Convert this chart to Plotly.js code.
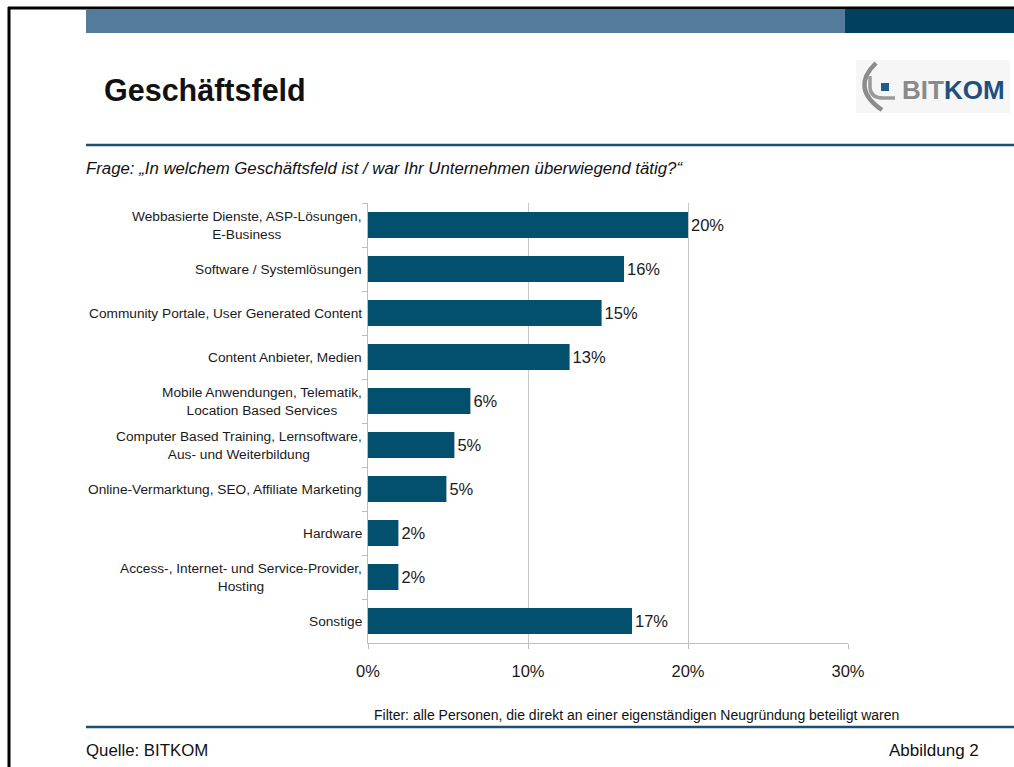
<!DOCTYPE html>
<html>
<head>
<meta charset="utf-8">
<script src="https://cdn.plot.ly/plotly-3.0.1.min.js"></script>
<style>html,body{margin:0;padding:0;background:#fff;}#chart{width:1014px;height:767px;}</style>
</head>
<body>
<div id="chart"></div>
<script>
const categories = [
  "Webbasierte Dienste, ASP-Lösungen,<br>E-Business",
  "Software / Systemlösungen",
  "Community Portale, User Generated Content",
  "Content Anbieter, Medien",
  "Mobile Anwendungen, Telematik,<br>Location Based Services",
  "Computer Based Training, Lernsoftware,<br>Aus- und Weiterbildung",
  "Online-Vermarktung, SEO, Affiliate Marketing",
  "Hardware",
  "Access-, Internet- und Service-Provider,<br>Hosting",
  "Sonstige"
];
const shares = [0.200, 0.160, 0.146, 0.126, 0.064, 0.054, 0.049, 0.019, 0.019, 0.165];
const valueLabels = ["20%", "16%", "15%", "13%", "6%", "5%", "5%", "2%", "2%", "17%"];
const xTicks = [0, 0.1, 0.2, 0.3];
const xTickLabels = ["0%", "10%", "20%", "30%"];

const W = 1014, H = 767;
const M = {l: 368, r: 166, t: 203, b: 124};
const PW = W - M.l - M.r, PH = H - M.t - M.b;
const px = x => (x - M.l) / PW;
const py = y => (H - M.b - y) / PH;
const FONT = "Arial, 'Liberation Sans', sans-serif";

const shapes = [];
function rect(x0, y0, x1, y1, color) {
  shapes.push({type: 'rect', xref: 'paper', yref: 'paper', x0: px(x0), x1: px(x1), y0: py(y1), y1: py(y0),
    fillcolor: color, line: {width: 0}, layer: 'above'});
}
function hline(x0, x1, y, color, w) {
  shapes.push({type: 'line', xref: 'paper', yref: 'paper', x0: px(x0), x1: px(x1), y0: py(y), y1: py(y),
    line: {color: color, width: w}});
}
function vline(x, y0, y1, color, w) {
  shapes.push({type: 'line', xref: 'paper', yref: 'paper', x0: px(x), x1: px(x), y0: py(y0), y1: py(y1),
    line: {color: color, width: w}});
}
function path(pts, color, w) {
  let d = '';
  pts.forEach(p => {
    d += p[0];
    for (let i = 1; i < p.length; i += 2) d += ' ' + px(p[i]).toFixed(5) + ',' + py(p[i + 1]).toFixed(5) + ' ';
  });
  shapes.push({type: 'path', xref: 'paper', yref: 'paper', path: d, layer: 'above',
    line: {color: color, width: w}, fillcolor: 'rgba(0,0,0,0)'});
}

// page frame
hline(8, 1014, 8, '#000', 3);
vline(9, 7, 767, '#000', 3);
// banner
rect(86, 9, 845, 33, '#547b9b');
rect(845, 9, 1014, 33, '#02405f');
// rules
hline(86, 1014, 145, '#1f4e70', 2.5);
hline(86, 1014, 727, '#1f4e70', 2.5);
// logo
rect(856, 60, 1010, 113, '#f6f6f6');
path([['M', 876, 63], ['Q', 850, 88, 882, 110]], '#8c8c8c', 4.5);
path([['M', 870, 76], ['L', 870, 88], ['Q', 871, 98, 883, 98], ['L', 895, 98]], '#9a9a9a', 3.5);
rect(881, 83, 889, 91, '#1f5b8a');

const annotations = [];
categories.forEach((c, i) => {
  annotations.push({xref: 'paper', yref: 'y', x: 0, y: c, xanchor: 'right', yanchor: 'middle',
    xshift: -4, text: c, align: 'center', showarrow: false,
    font: {family: FONT, size: 13.7, color: '#1a1a1a'}});
});
function pageText(x, y, text, opts) {
  annotations.push(Object.assign({xref: 'paper', yref: 'paper', x: px(x), y: py(y), text: text,
    showarrow: false, xanchor: 'left', yanchor: 'middle',
    font: {family: FONT, size: 13, color: '#111'}}, opts || {}));
}
pageText(102, 90, '<b>Geschäftsfeld</b>', {font: {family: FONT, size: 30.5, color: '#111'}});
pageText(84, 168, '<i>Frage: „In welchem Geschäftsfeld ist / war Ihr Unternehmen überwiegend tätig?“</i>',
  {font: {family: FONT, size: 16.8, color: '#111'}});
pageText(636, 715, 'Filter: alle Personen, die direkt an einer eigenständigen Neugründung beteiligt waren',
  {xanchor: 'center', font: {family: FONT, size: 14, color: '#111'}});
pageText(84, 750, 'Quelle: BITKOM', {font: {family: FONT, size: 16.8, color: '#111'}});
pageText(981, 750, 'Abbildung 2', {xanchor: 'right', font: {family: FONT, size: 17, color: '#111'}});
pageText(900, 90, '<b><span style="color:#8a8a8a">BIT</span><span style="color:#1f4f7c">KOM</span></b>',
  {font: {family: FONT, size: 26, color: '#8a8a8a'}});

const trace = {
  type: 'bar', orientation: 'h',
  y: categories, x: shares,
  text: valueLabels, textposition: 'outside', cliponaxis: false,
  textfont: {family: FONT, size: 16.5, color: '#1a1a1a'},
  marker: {color: '#03506e', line: {width: 0}},
  hoverinfo: 'none'
};

const layout = {
  width: W, height: H,
  margin: M,
  paper_bgcolor: '#fff', plot_bgcolor: '#fff',
  showlegend: false,
  bargap: 0.41,
  font: {family: FONT},
  xaxis: {
    range: [0, 0.3], tickvals: xTicks, ticktext: xTickLabels,
    showgrid: true, gridcolor: '#c8c8c8', gridwidth: 1,
    showline: true, linecolor: '#bdbdbd', linewidth: 1,
    ticks: 'outside', ticklen: 5, tickcolor: '#bdbdbd',
    zeroline: false,
    tickfont: {family: FONT, size: 16.5, color: '#1a1a1a'},
    ticklabelstandoff: 8,
    fixedrange: true
  },
  yaxis: {
    type: 'category', autorange: 'reversed',
    showticklabels: false,
    showline: true, linecolor: '#bdbdbd', linewidth: 1,
    ticks: 'outside', ticklen: 5, tickcolor: '#bdbdbd', tickson: 'boundaries',
    showgrid: false, zeroline: false, fixedrange: true
  },
  shapes: shapes,
  annotations: annotations
};

Plotly.newPlot('chart', [trace], layout, {displayModeBar: false, staticPlot: true});
</script>
</body>
</html>
